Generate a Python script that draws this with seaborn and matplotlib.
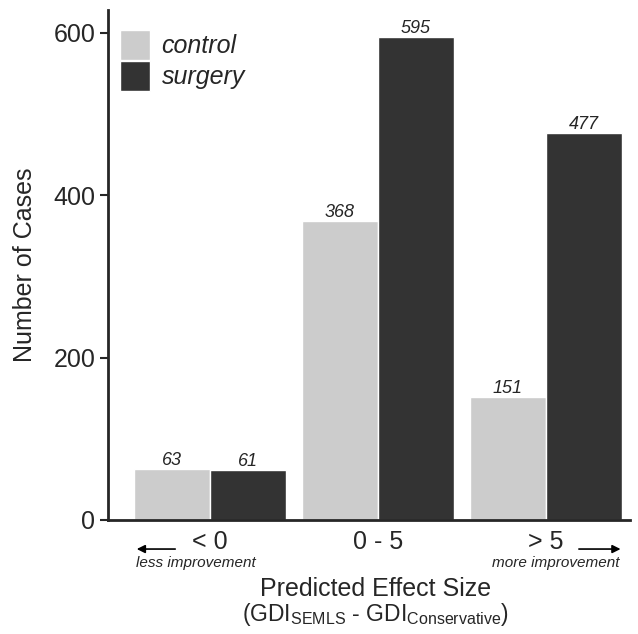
import pandas as pd
import numpy as np
import matplotlib
matplotlib.use('Agg')
import matplotlib.pyplot as plt
from matplotlib.patches import FancyArrowPatch
import seaborn as sns

# data
categories = ['< 0', '0 - 5', '> 5']
groups = ['control', 'surgery']
control_counts = [63, 368, 151]
surgery_counts = [61, 595, 477]

df = pd.DataFrame({
    'effect': categories * 2,
    'group': ['control'] * 3 + ['surgery'] * 3,
    'cases': control_counts + surgery_counts,
})

sns.set_style('ticks')
plt.rcParams['font.family'] = ['Liberation Sans', 'DejaVu Sans']
plt.rcParams['mathtext.fontset'] = 'custom'
plt.rcParams['mathtext.rm'] = 'Liberation Sans'
plt.rcParams['mathtext.it'] = 'Liberation Sans:italic'

fig = plt.figure(figsize=(6.38, 6.34), dpi=100)
ax = fig.add_axes([0.169, 0.18, 0.818, 0.804])

sns.barplot(data=df, x='effect', y='cases', hue='group', order=categories,
            hue_order=groups, palette={'control': '#cccccc', 'surgery': '#333333'},
            width=0.905, saturation=1, ax=ax, errorbar=None)

# value labels on top of bars
for cont in ax.containers:
    ax.bar_label(cont, fmt='%d', fontsize=13, style='italic', padding=0)

ax.set_ylim(0, 628)
ax.set_xlim(-0.61, 2.5)
ax.set_yticks([0, 200, 400, 600])
ax.tick_params(axis='y', labelsize=18, length=6, width=1.5, direction='out', pad=3)
ax.tick_params(axis='x', labelsize=18, length=0, pad=7)
ax.set_ylabel('Number of Cases', fontsize=18, labelpad=12)
ax.set_xlabel('')
for side in ['top', 'right']:
    ax.spines[side].set_visible(False)
for side in ['left', 'bottom']:
    ax.spines[side].set_linewidth(2)

# axis title below the ticks
fig.text(0.589, 0.060, 'Predicted Effect Size', ha='center', va='baseline', fontsize=18)
fig.text(0.589, 0.021, r'(GDI$_{\mathrm{SEMLS}}$ - GDI$_{\mathrm{Conservative}}$)',
         ha='center', va='baseline', fontsize=16.5)

# direction hints
fig.text(0.213, 0.106, 'less improvement', ha='left', va='baseline', fontsize=11, style='italic')
fig.text(0.971, 0.106, 'more improvement', ha='right', va='baseline', fontsize=11, style='italic')
fig.add_artist(FancyArrowPatch((0.279, 0.134), (0.210, 0.134), transform=fig.transFigure,
                               arrowstyle='-|>', mutation_scale=12, lw=1.2, color='black'))
fig.add_artist(FancyArrowPatch((0.903, 0.134), (0.977, 0.134), transform=fig.transFigure,
                               arrowstyle='-|>', mutation_scale=12, lw=1.2, color='black'))

leg = ax.legend(loc='upper left', bbox_to_anchor=(0.0, 0.985), frameon=False,
                fontsize=18, handlelength=1.2, handleheight=1.45, handletextpad=0.45,
                labelspacing=0.05, borderaxespad=0.3, borderpad=0.2)
for t in leg.get_texts():
    t.set_style('italic')

fig.savefig('out.png', dpi=100)
